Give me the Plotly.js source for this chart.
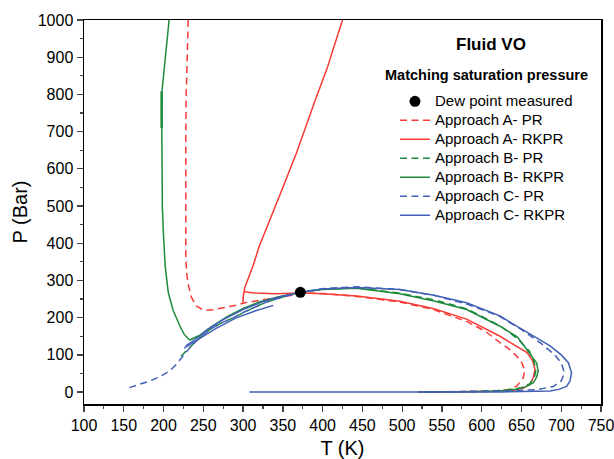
<!DOCTYPE html>
<html>
<head>
<meta charset="utf-8">
<script src="https://cdn.plot.ly/plotly-3.0.1.min.js"></script>
<style>html,body{margin:0;padding:0;background:#fff;}#chart{width:614px;height:459px;}</style>
</head>
<body>
<div id="chart"></div>
<script>
// Dew point measured
const dewT = [372];
const dewP = [268];

// Approach A - PR (red dashed)
const aPR_T = [231,229.5,228.5,228,227.8,227.6,227.6,228,229,231,235,241,247,254,262,275,292,302,315,328,345,361,372,400,443,497,539,581,605,623,635,644,651,654,652,644,635,623,600,570,530];
const aPR_P = [1000,900,800,700,600,500,430,370,320,290,255,232,224,220,221,226,234,240,245,249,255,260,266,265,257,242,222,190,163,133,115,97,77,57,37,16,8,3,1.5,0.8,0.4];

// Approach A - RKPR (red solid)
const aRK_T = [425,415,405,390,378,367,350,334,320,313,306,302,300,299.8,300.5,302,306,315,340,372,400,443,497,540,581,623,645,657,664,667,665,661,652,640,620,590,550,520];
const aRK_P = [1000,930,866,780,710,642,550,463,390,342,305,280,255,240,262,271,268,266,264,266,264,258,244,224,196,150,122,106,85,61,40,21,10,5,2,1,0.5,0.3];

// Approach B - PR (green dashed)
const bPR_T = [222,233,245,258,273,288,302,317,331,346,360,372,400,443,497,540,581,623,645,660,666,668,666,660,650,630,600,560,530];
const bPR_P = [97,119,145,168,186,200,216,231,243,253,262,268,276,280,266,248,224,178,144,110,80,57,37,22,12,5,2,0.7,0.4];

// Approach B - RKPR (green solid)
const bRK_T = [207,204,200.5,198,197.7,197.7,198.5,199.8,202,206,212,220.7,226,233,245,260,280,300,320,345,372,400,443,497,540,581,623,645,657,665,669,671,669,665,655,644,620,581,550,520];
const bRK_P = [1000,930,860,808,750,606,500,428,340,267,220,177,155,140,152,175,203,225,242,256,268,276,279,264,245,222,177,148,115,90,79,57,40,25,14,7.5,3,1,0.5,0.3];
// short overlapping green segment
const bRKx_T = [197.6,197.6];
const bRKx_P = [710,808];

// Approach C - PR (blue dashed)
const cPR_T = [157,170,183,196,208,215,221,227,233,245,258,273,288,302,317,331,346,360,372,400,443,497,540,585,623,650,675,692,700,704,700,690,670,636,600,560,520];
const cPR_P = [12,20,30,42,57,72,88,103,119,145,168,186,200,216,231,243,253,262,269,278,283,276,260,234,203,168,130,100,78,52,30,15,7,3,1.5,0.7,0.3];

// Approach C - RKPR (blue solid)
const cRK_T = [228,240,255,275,300,325,350,372,400,443,497,540,581,623,644,665,686,700,709,713,711,707,698,686,660,623,580,500,400,308];
const cRK_P = [124,142,168,195,222,243,258,268,277,281,276,260,240,205,177,150,124,100,79,52,30,16,8,3,1.2,0.5,0.3,0.1,0,0];
// secondary blue solid branch
const cRKx_T = [226,245,265,290,315,338];
const cRKx_P = [118,143,170,198,218,233];

const legendNames = ['Dew point measured','Approach A- PR','Approach A- RKPR','Approach B- PR','Approach B- RKPR','Approach C- PR','Approach C- RKPR'];
const lg = s => '<span style="font-size:15px">' + s + '</span>';

const RED = '#f73a35', GREEN = '#1e8a3c', BLUE = '#4260b5';
const DASH = '7px,4.5px';
const W = 1.5;

const traces = [
  {x:aPR_T, y:aPR_P, name:lg(legendNames[1]), mode:'lines', line:{color:RED, width:W, dash:DASH}, legendrank:2},
  {x:aRK_T, y:aRK_P, name:lg(legendNames[2]), mode:'lines', line:{color:RED, width:W}, legendrank:3},
  {x:bPR_T, y:bPR_P, name:lg(legendNames[3]), mode:'lines', line:{color:GREEN, width:W, dash:DASH}, legendrank:4},
  {x:bRK_T, y:bRK_P, name:lg(legendNames[4]), mode:'lines', line:{color:GREEN, width:W}, legendrank:5},
  {x:bRKx_T, y:bRKx_P, name:legendNames[4], mode:'lines', line:{color:GREEN, width:2.5}, showlegend:false},
  {x:cPR_T, y:cPR_P, name:lg(legendNames[5]), mode:'lines', line:{color:BLUE, width:W, dash:DASH}, legendrank:6},
  {x:cRK_T, y:cRK_P, name:lg(legendNames[6]), mode:'lines', line:{color:BLUE, width:W}, legendrank:7},
  {x:cRKx_T, y:cRKx_P, name:legendNames[6], mode:'lines', line:{color:BLUE, width:W}, showlegend:false},
  {x:dewT, y:dewP, name:lg(legendNames[0]), mode:'markers', marker:{color:'#000', size:11}, legendrank:1}
];

const FONT = 'Liberation Sans, Arial, sans-serif';
const layout = {
  width:614, height:459,
  margin:{l:84, r:13, t:20, b:55},
  paper_bgcolor:'#fff', plot_bgcolor:'#fff',
  font:{family:FONT, color:'#000', size:16},
  showlegend:true,
  legend:{x:0.6015, y:0.826, xanchor:'left', yanchor:'top', bgcolor:'rgba(0,0,0,0)',
          font:{family:FONT, size:11, color:'#000'}, tracegroupgap:0, itemwidth:30},
  xaxis:{range:[100,750], dtick:50, tick0:100, ticks:'outside', ticklen:6, tickwidth:1.3,
         showline:true, linewidth:1.5, linecolor:'#000', mirror:true, showgrid:false, zeroline:false,
         tickfont:{family:FONT, size:16}, ticklabeloverflow:'allow',
         minor:{ticks:'outside', dtick:25, ticklen:3, tickwidth:1.2, showgrid:false},
         title:{text:'T (K)', font:{family:FONT, size:20}, standoff:17}},
  yaxis:{range:[-32,1000], dtick:100, tick0:0, ticks:'outside', ticklen:6, tickwidth:1.3,
         showline:true, linewidth:1.5, linecolor:'#000', mirror:true, showgrid:false, zeroline:false,
         tickfont:{family:FONT, size:16}, ticklabeloverflow:'allow',
         minor:{ticks:'outside', dtick:50, ticklen:3, tickwidth:1.2, showgrid:false},
         title:{text:'P (Bar)', font:{family:FONT, size:20}, standoff:4}},
  annotations:[
    {text:'<b>Fluid VO</b>', xref:'paper', yref:'paper', x:0.787, y:0.935, showarrow:false,
     font:{family:FONT, size:17, color:'#000'}, xanchor:'center', yanchor:'middle'},
    {text:'<b>Matching saturation pressure</b>', xref:'paper', yref:'paper', x:0.7776, y:0.857, showarrow:false,
     font:{family:FONT, size:14.5, color:'#000'}, xanchor:'center', yanchor:'middle'}
  ]
};

Plotly.newPlot('chart', traces, layout, {displayModeBar:false, staticPlot:true});
</script>
</body>
</html>
